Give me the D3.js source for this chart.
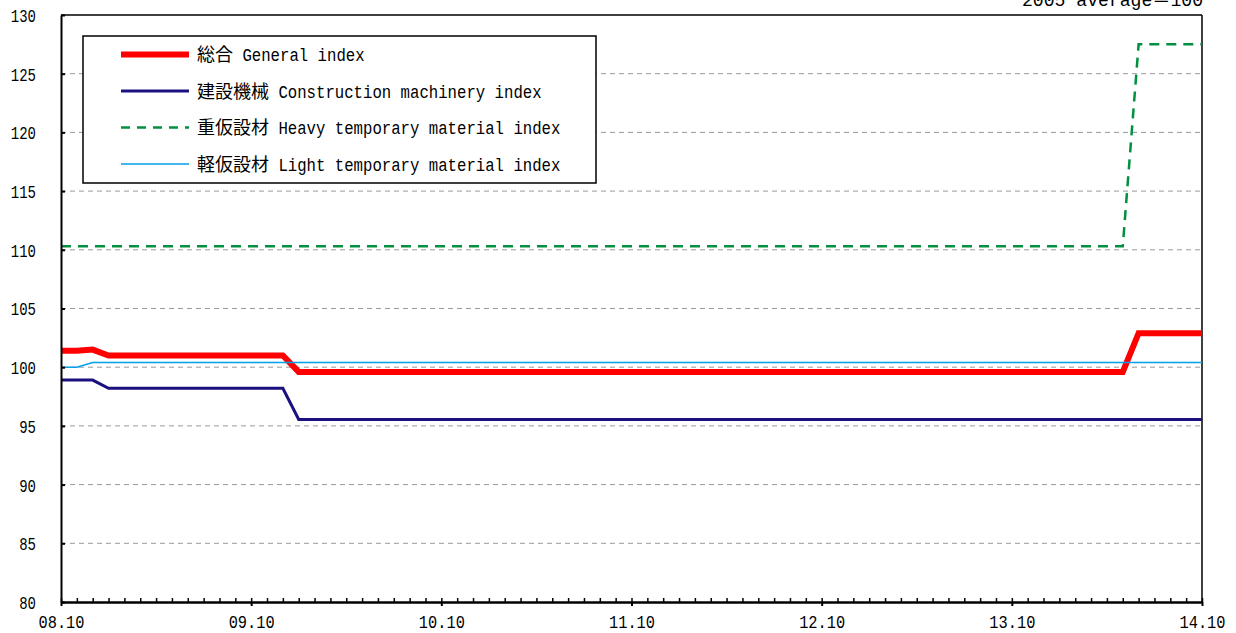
<!DOCTYPE html>
<html><head><meta charset="utf-8">
<script src="https://cdn.jsdelivr.net/npm/d3@7"></script>
<style>body{margin:0;background:#fff} svg{display:block}</style>
</head><body><svg id="c" width="1236" height="633"></svg>
<script>
// ---- data (monthly, Oct 2008 .. Oct 2014) ----
const xTickLabels = ["08.10","09.10","10.10","11.10","12.10","13.10","14.10"];
const yTicks = [80,85,90,95,100,105,110,115,120,125,130];
const seriesJa = ["総合","建設機械","重仮設材","軽仮設材"];
const seriesEn = ["General index","Construction machinery index","Heavy temporary material index","Light temporary material index"];
const noteText = "2005 average＝100";

const general = [
 101.4,101.4,101.5,
 101.0,101.0,101.0,101.0,101.0,101.0,101.0,101.0,101.0,101.0,101.0,101.0,
 99.6,99.6,99.6,99.6,99.6,99.6,99.6,99.6,99.6,99.6,
 99.6,99.6,99.6,99.6,99.6,99.6,99.6,99.6,99.6,99.6,
 99.6,99.6,99.6,99.6,99.6,99.6,99.6,99.6,99.6,99.6,
 99.6,99.6,99.6,99.6,99.6,99.6,99.6,99.6,99.6,99.6,
 99.6,99.6,99.6,99.6,99.6,99.6,99.6,99.6,99.6,99.6,
 99.6,99.6,99.6,
 102.9,102.9,102.9,102.9,102.9
];
const construction = [
 98.9,98.9,98.9,
 98.2,98.2,98.2,98.2,98.2,98.2,98.2,98.2,98.2,98.2,98.2,98.2,
 95.55,95.55,95.55,95.55,95.55,95.55,95.55,95.55,95.55,95.55,
 95.55,95.55,95.55,95.55,95.55,95.55,95.55,95.55,95.55,95.55,
 95.55,95.55,95.55,95.55,95.55,95.55,95.55,95.55,95.55,95.55,
 95.55,95.55,95.55,95.55,95.55,95.55,95.55,95.55,95.55,95.55,
 95.55,95.55,95.55,95.55,95.55,95.55,95.55,95.55,95.55,95.55,
 95.55,95.55,95.55,95.55,95.55,95.55,95.55,95.55
];
const heavy = [
 110.3,110.3,110.3,110.3,110.3,110.3,110.3,110.3,110.3,110.3,
 110.3,110.3,110.3,110.3,110.3,110.3,110.3,110.3,110.3,110.3,
 110.3,110.3,110.3,110.3,110.3,110.3,110.3,110.3,110.3,110.3,
 110.3,110.3,110.3,110.3,110.3,110.3,110.3,110.3,110.3,110.3,
 110.3,110.3,110.3,110.3,110.3,110.3,110.3,110.3,110.3,110.3,
 110.3,110.3,110.3,110.3,110.3,110.3,110.3,110.3,110.3,110.3,
 110.3,110.3,110.3,110.3,110.3,110.3,110.3,110.3,
 127.5,127.5,127.5,127.5,127.5
];
const light = [
 100.0,100.0,
 100.4,100.4,100.4,100.4,100.4,100.4,100.4,100.4,100.4,100.4,
 100.4,100.4,100.4,100.4,100.4,100.4,100.4,100.4,100.4,100.4,
 100.4,100.4,100.4,100.4,100.4,100.4,100.4,100.4,100.4,100.4,
 100.4,100.4,100.4,100.4,100.4,100.4,100.4,100.4,100.4,100.4,
 100.4,100.4,100.4,100.4,100.4,100.4,100.4,100.4,100.4,100.4,
 100.4,100.4,100.4,100.4,100.4,100.4,100.4,100.4,100.4,100.4,
 100.4,100.4,100.4,100.4,100.4,100.4,100.4,100.4,100.4,100.4,
 100.4
];

// ---- drawing ----
const svg = d3.select("#c");
const L=61, R=1202, T=15, B=602;
const nMonths = general.length - 1;
const x = d3.scaleLinear().domain([0, nMonths]).range([L, R]);
const y = d3.scaleLinear().domain([80, 130]).range([B, T]);
const mono = "'Liberation Mono','Noto Sans CJK JP',monospace";
const cjk = "'Noto Sans CJK JP',sans-serif";
const squeeze = (sel, perChar) => sel.each(function(){
  const s = d3.select(this);
  const n = s.text().length;
  s.attr("textLength", n * perChar).attr("lengthAdjust", "spacingAndGlyphs");
});

// gridlines
svg.append("g").selectAll("line")
  .data(yTicks.filter(v => v > 80 && v < 130)).join("line")
  .attr("x1", L).attr("x2", R).attr("y1", d => y(d)).attr("y2", d => y(d))
  .attr("stroke", "#999").attr("stroke-width", 1).attr("stroke-dasharray", "5,4");

// border top/right
svg.append("line").attr("x1", L).attr("x2", R).attr("y1", T).attr("y2", T).attr("stroke","#000").attr("stroke-width",1.5);
svg.append("line").attr("x1", R).attr("x2", R).attr("y1", T).attr("y2", B).attr("stroke","#000").attr("stroke-width",1.5);

// series
const styles = [
  {data: general, color: "#ff0000", w: 6, dash: null},
  {data: construction, color: "#1a1080", w: 3, dash: null},
  {data: heavy, color: "#009040", w: 2.5, dash: "10,7"},
  {data: light, color: "#00a0e9", w: 1.5, dash: null}
];
const line = d3.line().x((d, i) => x(i)).y(d => y(d));
styles.forEach(s => {
  svg.append("path").attr("d", line(s.data)).attr("fill", "none")
    .attr("stroke", s.color).attr("stroke-width", s.w)
    .attr("stroke-dasharray", s.dash);
});

// y axis
const yAxis = d3.axisLeft(y).tickValues(yTicks).tickSizeInner(-4).tickSizeOuter(0).tickPadding(25);
const gy = svg.append("g").attr("transform", `translate(${L},0)`).call(yAxis);
gy.select(".domain").attr("stroke-width", 2);
gy.selectAll(".tick line").attr("stroke-width", 2);
gy.selectAll("text").attr("font-family", mono).attr("font-size", 18).attr("fill", "#000").attr("dy", "0.36em");
squeeze(gy.selectAll("text"), 8.4);

// x axis minor ticks (monthly, upward)
const xMinor = d3.axisBottom(x).tickValues(d3.range(0, nMonths + 1)).tickSizeInner(-4).tickSizeOuter(0).tickFormat("");
const gxm = svg.append("g").attr("transform", `translate(0,${B})`).call(xMinor);
gxm.selectAll(".tick line").attr("stroke-width", 1.5);
// x axis major (yearly)
const xAxis = d3.axisBottom(x).tickValues(d3.range(0, nMonths + 1, 12))
  .tickFormat(d => xTickLabels[d / 12]).tickSizeInner(4).tickSizeOuter(0).tickPadding(9.5);
const gx = svg.append("g").attr("transform", `translate(0,${B})`).call(xAxis);
gx.select(".domain").attr("stroke-width", 2.5);
gx.selectAll(".tick line").attr("stroke-width", 2);
gx.selectAll("text").attr("font-family", mono).attr("font-size", 18).attr("fill", "#000");
squeeze(gx.selectAll("text"), 9.2);

// note
const note = svg.append("text").attr("x", 1203).attr("y", 6).attr("text-anchor", "end")
  .attr("font-family", mono).attr("font-size", 18).text(noteText);
note.attr("textLength", 181).attr("lengthAdjust", "spacingAndGlyphs");

// legend
const lg = svg.append("g");
lg.append("rect").attr("x", 83).attr("y", 36).attr("width", 513).attr("height", 147)
  .attr("fill", "#fff").attr("stroke", "#000").attr("stroke-width", 1.5);
const rowY = [54.5, 91, 127.5, 164];
styles.forEach((s, i) => {
  lg.append("line").attr("x1", 121).attr("x2", 189).attr("y1", rowY[i]).attr("y2", rowY[i])
    .attr("stroke", s.color).attr("stroke-width", s.w).attr("stroke-dasharray", s.dash ? "9,7" : null);
  lg.append("text").attr("x", 197).attr("y", rowY[i] + 6.5)
    .attr("font-family", cjk).attr("font-size", 18).text(seriesJa[i]);
  const t = lg.append("text").attr("x", 197 + seriesJa[i].length * 18 + 9.4).attr("y", rowY[i] + 6.5)
    .attr("font-family", mono).attr("font-size", 18).text(seriesEn[i]);
  squeeze(t, 9.4);
});
</script></body></html>
